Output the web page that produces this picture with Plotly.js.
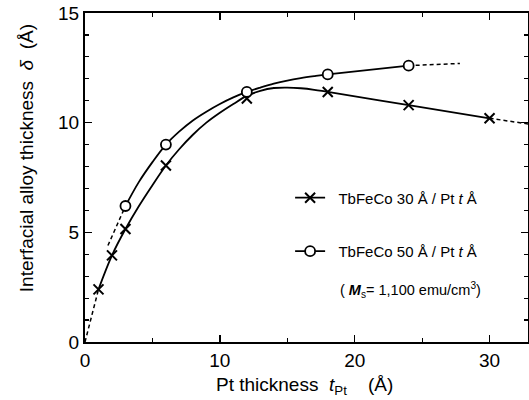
<!DOCTYPE html>
<html>
<head>
<meta charset="utf-8">
<script src="https://cdn.plot.ly/plotly-3.0.1.min.js"></script>
<style>html,body{margin:0;padding:0;background:#fff;}#chart{width:529px;height:400px;}</style>
</head>
<body>
<div id="chart"></div>
<script>
// Measured points
const xCross = [1, 2, 3, 6, 12, 18, 24, 30];
const yCross = [2.4, 3.95, 5.15, 8.05, 11.1, 11.4, 10.8, 10.2];
const xCirc = [3, 6, 12, 18, 24];
const yCirc = [6.2, 9.0, 11.4, 12.2, 12.6];

// Guide curves
const xCrossCurve = [1, 2, 3, 4, 5, 6, 7, 8, 9, 10, 11, 12, 13, 14, 15, 16, 17, 18, 24, 30];
const yCrossCurve = [2.4, 3.95, 5.15, 6.2, 7.15, 8.05, 8.8, 9.45, 10.0, 10.45, 10.85, 11.22, 11.45, 11.58, 11.6, 11.57, 11.5, 11.4, 10.8, 10.2];
const xCircCurve = [3, 4, 5, 6, 7, 8, 9, 10, 11, 12, 13, 14, 15, 16, 17, 18, 24];
const yCircCurve = [6.2, 7.3, 8.2, 9.0, 9.6, 10.1, 10.5, 10.85, 11.15, 11.4, 11.6, 11.78, 11.92, 12.03, 12.12, 12.2, 12.6];

// Dashed extrapolations
const xCrossLow = [0, 1];
const yCrossLow = [0, 2.4];
const xCrossHigh = [30, 33];
const yCrossHigh = [10.2, 9.93];
const xCircLow = [1.7, 3];
const yCircLow = [4.4, 6.2];
const xCircHigh = [24, 27.8];
const yCircHigh = [12.6, 12.7];

const nameCross = '\u00a0\u00a0TbFeCo 30 Å / Pt <i>t</i> Å';
const nameCirc = '\u00a0\u00a0TbFeCo 50 Å / Pt <i>t</i> Å';

const FONT = 'Liberation Sans, Arial, Helvetica, sans-serif';
const lw = 1.8;
const dash = '4px,3px';

const traces = [
  {x: xCrossCurve, y: yCrossCurve, mode: 'lines', line: {color: '#000', width: lw, shape: 'spline'}, showlegend: false, hoverinfo: 'skip'},
  {x: xCircCurve, y: yCircCurve, mode: 'lines', line: {color: '#000', width: lw, shape: 'spline'}, showlegend: false, hoverinfo: 'skip'},
  {x: xCrossLow, y: yCrossLow, mode: 'lines', line: {color: '#000', width: 1.5, dash: dash}, showlegend: false},
  {x: xCrossHigh, y: yCrossHigh, mode: 'lines', line: {color: '#000', width: 1.5, dash: dash}, showlegend: false},
  {x: xCircLow, y: yCircLow, mode: 'lines', line: {color: '#000', width: 1.5, dash: dash}, showlegend: false},
  {x: xCircHigh, y: yCircHigh, mode: 'lines', line: {color: '#000', width: 1.5, dash: dash}, showlegend: false},
  {x: xCross, y: yCross, mode: 'markers', marker: {symbol: 'x-thin-open', size: 10, color: '#000', line: {width: 2, color: '#000'}}, showlegend: false},
  {x: xCirc, y: yCirc, mode: 'markers', marker: {symbol: 'circle', size: 10, color: '#fff', line: {width: 1.8, color: '#000'}}, showlegend: false},
  {x: [null], y: [null], mode: 'lines+markers', name: nameCross, legendgroup: 'a', line: {color: '#000', width: lw}, marker: {symbol: 'x-thin-open', size: 10, color: '#000', line: {width: 2, color: '#000'}}},
  {x: [null], y: [null], mode: 'lines+markers', name: nameCirc, legendgroup: 'b', line: {color: '#000', width: lw}, marker: {symbol: 'circle', size: 10, color: '#fff', line: {width: 1.8, color: '#000'}}}
];

const axisCommon = {
  showline: true, linecolor: '#000', linewidth: 2, mirror: 'allticks',
  ticks: 'inside', ticklen: 7, tickwidth: 1.5, tickcolor: '#000',
  showgrid: false, zeroline: false,
  tickfont: {family: FONT, size: 19, color: '#000'}
};

const layout = {
  width: 529, height: 400,
  margin: {l: 85, r: 1, t: 13, b: 58},
  paper_bgcolor: '#fff', plot_bgcolor: '#fff',
  font: {family: FONT, color: '#000'},
  xaxis: Object.assign({}, axisCommon, {
    range: [0, 32.85], tickvals: [0, 10, 20, 30],
    minor: {tickvals: [5, 15, 25], ticks: 'inside', ticklen: 4, tickwidth: 1.2, tickcolor: '#000'}
  }),
  yaxis: Object.assign({}, axisCommon, {
    range: [0, 15], tickvals: [0, 5, 10, 15],
    minor: {dtick: 1, ticks: 'inside', ticklen: 4, tickwidth: 1.2, tickcolor: '#000'}
  }),
  legend: {
    x: 0.463, y: 0.488, xanchor: 'left', yanchor: 'top',
    font: {family: FONT, size: 15, color: '#000'},
    bgcolor: 'rgba(0,0,0,0)', tracegroupgap: 31, itemwidth: 30
  },
  annotations: [
    {xref: 'paper', yref: 'paper', x: -0.133, y: 0.559, xanchor: 'center', yanchor: 'middle',
     text: 'Interfacial alloy thickness  <i>δ</i>  (Å)', textangle: -90, showarrow: false,
     font: {family: FONT, size: 19, color: '#000'}},
    {xref: 'paper', yref: 'paper', x: 0.495, y: -0.135, xanchor: 'center', yanchor: 'middle',
     text: 'Pt thickness  <i>t</i><sub>Pt</sub>    (Å)', showarrow: false,
     font: {family: FONT, size: 19, color: '#000'}},
    {xref: 'paper', yref: 'paper', x: 0.571, y: 0.157, xanchor: 'left', yanchor: 'middle',
     text: '( <b><i>M</i></b><sub>s</sub>= 1,100 emu/cm<sup>3</sup>)', showarrow: false,
     font: {family: FONT, size: 14.5, color: '#000'}}
  ]
};

Plotly.newPlot('chart', traces, layout, {staticPlot: true, displayModeBar: false});
</script>
</body>
</html>
